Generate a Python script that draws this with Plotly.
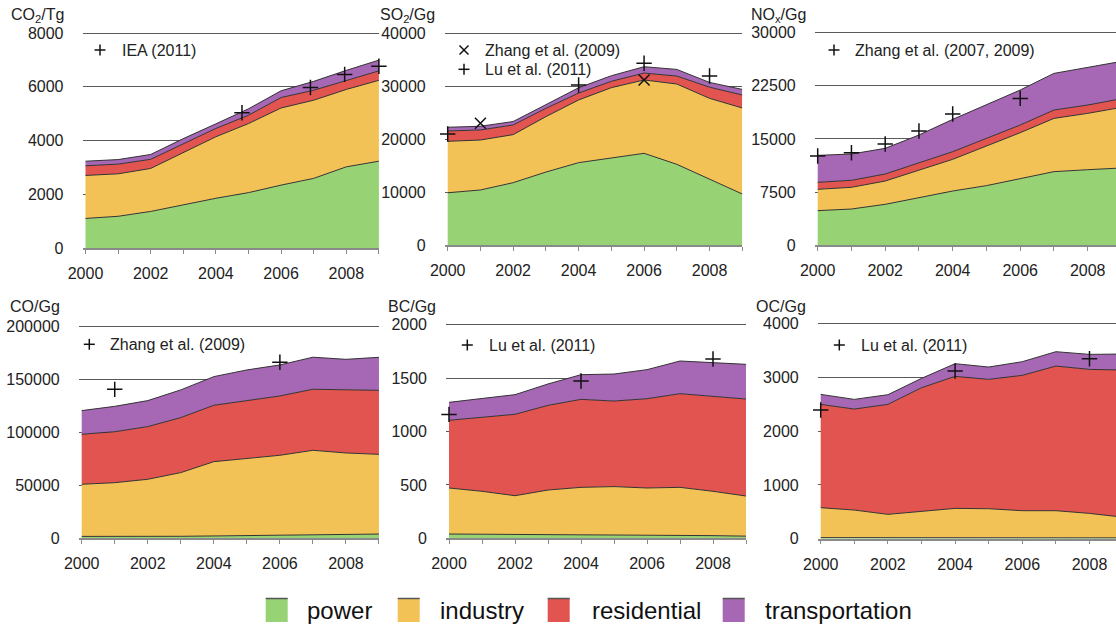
import plotly.graph_objects as go

W, H = 1116, 627
FONT = "Liberation Sans, Arial, Helvetica, sans-serif"
TXT = "#222222"

years = [2000, 2001, 2002, 2003, 2004, 2005, 2006, 2007, 2008, 2009]
year_labels = ["2000", "", "2002", "", "2004", "", "2006", "", "2008", ""]

sectors = ["power", "industry", "residential", "transportation"]
sector_colors = ["#97D274", "#F3C256", "#E2544F", "#A667B5"]

# --- CO2 (Tg) by sector ---
co2_power = [1100, 1180, 1360, 1610, 1850, 2060, 2340, 2590, 3020, 3230]
co2_industry = [1600, 1580, 1600, 1930, 2290, 2570, 2870, 2910, 2880, 3010]
co2_residential = [360, 360, 340, 350, 310, 310, 390, 370, 340, 350]
co2_transport = [170, 170, 180, 180, 170, 240, 250, 330, 370, 400]
co2_ticks = [0, 2000, 4000, 6000, 8000]
iea_years = [2004.8, 2006.9, 2007.95, 2009.0]
iea_co2 = [5030, 5970, 6460, 6760]

# --- SO2 (Gg) by sector ---
so2_power = [9900, 10420, 11800, 13800, 15570, 16390, 17330, 15260, 12430, 9670]
so2_industry = [9690, 9420, 9050, 10440, 11810, 13310, 13820, 15130, 15260, 16200]
so2_residential = [1950, 1890, 1820, 1570, 1300, 1200, 1300, 1500, 2100, 2450]
so2_transport = [700, 700, 650, 750, 1000, 1050, 1200, 1250, 900, 1050]
so2_ticks = [0, 10000, 20000, 30000, 40000]
zhang09_so2_years = [2001, 2006]
zhang09_so2 = [22980, 31150]
lu11_so2_years = [2000, 2004, 2006, 2008]
lu11_so2 = [20970, 30200, 34290, 31900]

# --- NOx (Gg) by sector ---
nox_power = [4890, 5120, 5780, 6770, 7660, 8420, 9400, 10390, 10670, 10910]
nox_industry = [3010, 3060, 3290, 3810, 4470, 5590, 6490, 7520, 7950, 8550]
nox_residential = [990, 990, 990, 1080, 1080, 1080, 1080, 1180, 1170, 1230]
nox_transport = [3800, 3710, 3620, 3900, 4560, 4700, 4940, 5170, 5270, 5260]
nox_ticks = [0, 7500, 15000, 22500, 30000]
zhang_nox_years = [2000, 2001, 2002, 2003, 2004, 2006]
zhang_nox = [12600, 13070, 14290, 16130, 18520, 20730]

# --- CO (Gg) by sector ---
co_power = [1800, 1600, 1500, 1900, 2200, 2500, 2800, 3200, 3500, 4000]
co_industry = [49100, 50800, 54100, 60000, 70000, 72900, 75400, 79700, 76900, 75100]
co_residential = [47100, 48000, 49600, 51800, 53100, 54300, 55900, 57500, 59300, 60300]
co_transport = [22300, 23900, 24500, 26100, 27000, 28900, 29200, 30200, 28900, 31100]
co_ticks = [0, 50000, 100000, 150000, 200000]
zhang09_co_years = [2001, 2006]
zhang09_co = [140300, 165800]

# --- BC (Gg) by sector ---
bc_power = [40, 38, 36, 35, 35, 35, 34, 30, 25, 20]
bc_industry = [431, 402, 363, 417, 442, 449, 437, 447, 415, 376]
bc_residential = [634, 693, 762, 793, 824, 801, 836, 877, 886, 908]
bc_transport = [168, 174, 184, 200, 231, 253, 272, 306, 318, 325]
bc_ticks = [0, 500, 1000, 1500, 2000]
lu11_bc_years = [2000, 2004, 2008]
lu11_bc = [1160, 1473, 1679]

# --- OC (Gg) by sector ---
oc_power = [20, 18, 17, 17, 17, 17, 16, 16, 15, 15]
oc_industry = [557, 515, 436, 492, 547, 541, 505, 505, 456, 385]
oc_residential = [1922, 1879, 2046, 2300, 2456, 2406, 2518, 2691, 2679, 2738]
oc_transport = [186, 180, 180, 174, 236, 230, 254, 267, 279, 298]
oc_ticks = [0, 1000, 2000, 3000, 4000]
lu11_oc_years = [2000, 2004, 2008]
lu11_oc = [2394, 3119, 3349]

# Panel geometry in pixels: x of 2000, pixels per year, right edge,
# y of zero, y of top tick; plus title and inset key placement.
panels = [
    dict(title="CO<sub>2</sub>/Tg", series=[co2_power, co2_industry, co2_residential, co2_transport],
         ticks=co2_ticks, x0=85.5, sx=32.6, xr=379, y0=248, yt=33, title_xy=(66, 15),
         refs=[("cross", iea_years, iea_co2, "IEA (2011)")], key_xy=(100, 120, 50)),
    dict(title="SO<sub>2</sub>/Gg", series=[so2_power, so2_industry, so2_residential, so2_transport],
         ticks=so2_ticks, x0=447.7, sx=32.73, xr=742.3, y0=245.3, yt=33, title_xy=(437, 15),
         refs=[("x", zhang09_so2_years, zhang09_so2, "Zhang et al. (2009)"),
               ("cross", lu11_so2_years, lu11_so2, "Lu et al. (2011)")], key_xy=(464, 482.7, 50)),
    dict(title="NO<sub>x</sub>/Gg", series=[nox_power, nox_industry, nox_residential, nox_transport],
         ticks=nox_ticks, x0=817.7, sx=33.75, xr=1116, y0=245.3, yt=32.7, title_xy=(808, 15),
         refs=[("cross", zhang_nox_years, zhang_nox, "Zhang et al. (2007, 2009)")], key_xy=(834, 852.7, 50)),
    dict(title="CO/Gg", series=[co_power, co_industry, co_residential, co_transport],
         ticks=co_ticks, x0=81.7, sx=33.03, xr=379, y0=538.3, yt=326, title_xy=(62, 306.7),
         refs=[("cross", zhang09_co_years, zhang09_co, "Zhang et al. (2009)")], key_xy=(89.3, 108.3, 344.3)),
    dict(title="BC/Gg", series=[bc_power, bc_industry, bc_residential, bc_transport],
         ticks=bc_ticks, x0=449, sx=33.0, xr=746, y0=538.3, yt=324.7, title_xy=(438.3, 306.7),
         refs=[("cross", lu11_bc_years, lu11_bc, "Lu et al. (2011)")], key_xy=(467.3, 486.7, 345)),
    dict(title="OC/Gg", series=[oc_power, oc_industry, oc_residential, oc_transport],
         ticks=oc_ticks, x0=820.7, sx=33.6, xr=1116, y0=538.7, yt=323.7, title_xy=(807.7, 306.7),
         refs=[("cross", lu11_oc_years, lu11_oc, "Lu et al. (2011)")], key_xy=(839.3, 859.3, 345)),
]


def px(x):
    return x / W


def py(y):
    return (H - y) / H


fig = go.Figure()
shapes = []
annotations = []
layout = {}
PAD = 1.02  # headroom so the top gridline sits inside the plot area

for i, p in enumerate(panels, start=1):
    xa = "xaxis" if i == 1 else f"xaxis{i}"
    ya = "yaxis" if i == 1 else f"yaxis{i}"
    xr_ = "x" if i == 1 else f"x{i}"
    yr_ = "y" if i == 1 else f"y{i}"

    left = p["x0"] - 3
    r0 = 2000 - 3 / p["sx"]
    r1 = 2000 + (p["xr"] - p["x0"]) / p["sx"]
    ymax = p["ticks"][-1]
    ytop_px = p["y0"] - (p["y0"] - p["yt"]) * PAD

    layout[xa] = dict(
        domain=[px(left), px(p["xr"])], range=[r0, r1], anchor=yr_, automargin=False,
        tickmode="array", tickvals=years, ticktext=year_labels,
        ticks="outside", ticklen=4, tickwidth=1, tickcolor="#8a8a8a",
        showline=True, linecolor="#8a8a8a", linewidth=1.5,
        showgrid=False, zeroline=False, ticklabelstandoff=6,
        tickfont=dict(family=FONT, size=16, color=TXT),
    )
    layout[ya] = dict(
        domain=[py(p["y0"]), py(ytop_px)], range=[0, ymax * PAD], anchor=xr_, automargin=False,
        tickmode="array", tickvals=p["ticks"], ticktext=[str(t) for t in p["ticks"]],
        showgrid=True, gridcolor="#5a5a5a", gridwidth=1.2,
        zeroline=False, showline=False, ticks="", ticklabelstandoff=18,
        tickfont=dict(family=FONT, size=16, color=TXT),
    )

    for name, color, vals in zip(sectors, sector_colors, p["series"]):
        fig.add_trace(go.Scatter(
            x=years, y=vals, name=name, mode="lines", stackgroup=f"s{i}",
            line=dict(color="#333333", width=1), fillcolor=color,
            xaxis=xr_, yaxis=yr_, showlegend=False, hoverinfo="skip",
        ))

    mx, tx, ky = p["key_xy"]
    for k, (sym, rx, ry, label) in enumerate(p["refs"]):
        fig.add_trace(go.Scatter(
            x=rx, y=ry, mode="markers", name=label, cliponaxis=False,
            marker=dict(symbol=f"{sym}-thin", size=11, line=dict(color="#111111", width=1.5)),
            xaxis=xr_, yaxis=yr_, showlegend=False,
        ))
        # inset key: marker glyph and source label
        yy = ky + k * 19.3
        h = 5.5
        if sym == "cross":
            shapes.append(dict(type="line", xref="paper", yref="paper",
                               x0=px(mx - h), x1=px(mx + h), y0=py(yy), y1=py(yy),
                               line=dict(color="#111111", width=1.5)))
            shapes.append(dict(type="line", xref="paper", yref="paper",
                               x0=px(mx), x1=px(mx), y0=py(yy - h), y1=py(yy + h),
                               line=dict(color="#111111", width=1.5)))
        else:
            h2 = 4.5
            shapes.append(dict(type="line", xref="paper", yref="paper",
                               x0=px(mx - h2), x1=px(mx + h2), y0=py(yy - h2), y1=py(yy + h2),
                               line=dict(color="#111111", width=1.5)))
            shapes.append(dict(type="line", xref="paper", yref="paper",
                               x0=px(mx - h2), x1=px(mx + h2), y0=py(yy + h2), y1=py(yy - h2),
                               line=dict(color="#111111", width=1.5)))
        annotations.append(dict(
            text=label, xref="paper", yref="paper", x=px(tx), y=py(yy),
            xanchor="left", yanchor="middle", showarrow=False,
            font=dict(family=FONT, size=16, color=TXT),
        ))

    tx_, ty_ = p["title_xy"]
    annotations.append(dict(
        text=p["title"], xref="paper", yref="paper", x=px(tx_), y=py(ty_),
        xanchor="right", yanchor="middle", showarrow=False,
        font=dict(family=FONT, size=16, color=TXT),
    ))

# Sector key along the bottom
key_swatch_x = [265.7, 397.7, 547.7, 722.7]
key_text_x = [305, 438.3, 590, 762.7]
for name, color, sx_, tx_ in zip(sectors, sector_colors, key_swatch_x, key_text_x):
    shapes.append(dict(type="rect", xref="paper", yref="paper",
                       x0=px(sx_), x1=px(sx_ + 22), y0=py(622), y1=py(598.5),
                       fillcolor=color, line=dict(width=0)))
    shapes.append(dict(type="line", xref="paper", yref="paper",
                       x0=px(sx_), x1=px(sx_ + 22), y0=py(598.5), y1=py(598.5),
                       line=dict(color="#555555", width=1.5)))
    annotations.append(dict(
        text=name, xref="paper", yref="paper", x=px(tx_), y=py(610),
        xanchor="left", yanchor="middle", showarrow=False,
        font=dict(family=FONT, size=24, color="#111111"),
    ))

fig.update_layout(
    width=W, height=H, margin=dict(l=0, r=0, t=0, b=0, autoexpand=False),
    paper_bgcolor="white", plot_bgcolor="white",
    shapes=shapes, annotations=annotations, showlegend=False,
    **layout,
)

fig.write_html("out.html")
